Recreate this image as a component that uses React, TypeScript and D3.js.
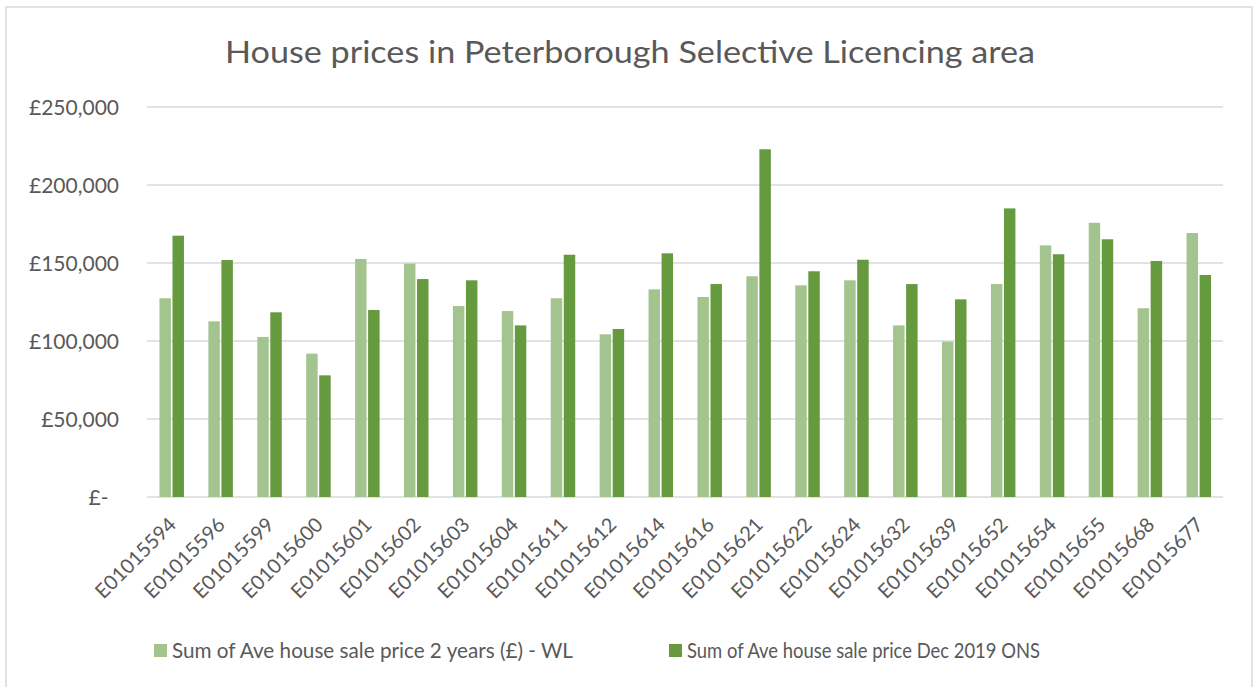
import React from "react";
import * as d3 from "d3";

const categories = [
  "E01015594", "E01015596", "E01015599", "E01015600", "E01015601", "E01015602",
  "E01015603", "E01015604", "E01015611", "E01015612", "E01015614", "E01015616",
  "E01015621", "E01015622", "E01015624", "E01015632", "E01015639", "E01015652",
  "E01015654", "E01015655", "E01015668", "E01015677",
];

const wlValues = [
  127400, 112600, 102600, 91900, 152600, 149600,
  122400, 119200, 127400, 104300, 133100, 128200,
  141500, 135700, 138900, 110000, 99600, 136500,
  161300, 175800, 121000, 169200,
];

const onsValues = [
  167500, 151900, 118400, 78000, 119900, 139700,
  138900, 110000, 155300, 107700, 156200, 136500,
  222900, 144700, 152100, 136500, 126700, 185000,
  155600, 165200, 151300, 142300,
];

const seriesNames = [
  "Sum of Ave house sale price 2 years (£) - WL",
  "Sum of Ave house sale price Dec 2019 ONS",
];
const seriesKeys = ["wl", "ons"];
const seriesColors = ["#A4C48F", "#659A3E"];

const yTicks = [0, 50000, 100000, 150000, 200000, 250000];
const yTickLabels = ["£-\u2002", "£50,000", "£100,000", "£150,000", "£200,000", "£250,000"];

const title = "House prices in Peterborough Selective Licencing area";

const W = 1255;
const H = 687;
const FONT = "Lato, 'Open Sans', sans-serif";
const TEXT = "#595959";

export default function App() {
  const plot = { left: 147, right: 1223, top: 107, bottom: 497 };
  const y = d3.scaleLinear().domain([0, 250000]).range([plot.bottom, plot.top]);
  const x0 = d3.scaleBand<string>().domain(categories).range([plot.left, plot.right]).padding(0);
  const x1 = d3.scaleBand<string>().domain(seriesKeys).range([-12, 12.5]).paddingInner(0.12);
  const seriesValues = [wlValues, onsValues];

  return (
    <svg
      width={W}
      height={H}
      style={{ position: "absolute", left: 0, top: 0, background: "#fff" }}
      fontFamily={FONT}
    >
      <rect x={6} y={7} width={1246} height={H} fill="#fff" stroke="#D9D9D9" strokeWidth={1.5} />
      <text
        x={630}
        y={63}
        textAnchor="middle"
        fontSize={31}
        fill={TEXT}
        textLength={810}
        lengthAdjust="spacingAndGlyphs"
      >
        {title}
      </text>

      {yTicks.map((t, i) => (
        <g key={t}>
          <line x1={plot.left} x2={plot.right} y1={y(t)} y2={y(t)} stroke="#D9D9D9" strokeWidth={1.5} />
          <text x={119} y={y(t)} dy="0.36em" textAnchor="end" fontSize={21} fill={TEXT}>
            {yTickLabels[i]}
          </text>
        </g>
      ))}

      {categories.map((c, ci) => {
        const cx = (x0(c) as number) + x0.bandwidth() / 2;
        return (
          <g key={c}>
            {seriesKeys.map((k, si) => {
              const v = seriesValues[si][ci];
              return (
                <rect
                  key={k}
                  x={cx + (x1(k) as number)}
                  y={y(v)}
                  width={x1.bandwidth()}
                  height={y(0) - y(v)}
                  fill={seriesColors[si]}
                />
              );
            })}
            <text
              transform={`translate(${cx + 1},${521}) rotate(-45)`}
              textAnchor="end"
              dy="0.35em"
              fontSize={20}
              fill={TEXT}
            >
              {c}
            </text>
          </g>
        );
      })}

      {seriesNames.map((name, i) => {
        const lx = [154, 669][i];
        const tl = [401, 353][i];
        return (
          <g key={name}>
            <rect x={lx} y={644} width={13} height={13} fill={seriesColors[i]} />
            <text
              x={lx + 18}
              y={658}
              fontSize={22}
              fill={TEXT}
              textLength={tl}
              lengthAdjust="spacingAndGlyphs"
            >
              {name}
            </text>
          </g>
        );
      })}
    </svg>
  );
}
